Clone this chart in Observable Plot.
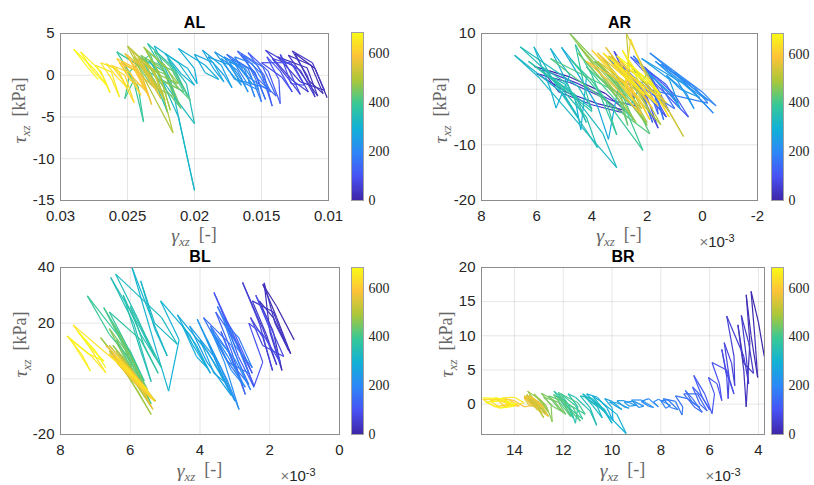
<!DOCTYPE html>
<html><head><meta charset="utf-8">
<script src="https://cdn.jsdelivr.net/npm/d3@7"></script>
<script src="https://cdn.jsdelivr.net/npm/@observablehq/plot@0.6"></script>
<style>
body{margin:0;background:#fff;}
#root{position:relative;width:814px;height:485px;overflow:hidden;background:#fff;}
#root svg{position:absolute;overflow:visible;}
</style></head><body><div id="root"></div>
<script>
// ---------- data: [gamma_xz, tau_xz (kPa), time] ----------
const AL = [
[0.0101,-2.7,0],[0.0110,0.8,3],[0.0125,2.6,6],[0.0115,-0.6,9],
[0.0104,-2.2,12],[0.0113,1.2,15],[0.0130,2.4,18],[0.0118,-0.3,21],
[0.0108,-2.5,24],[0.0116,0.9,27],[0.0138,2.2,30],[0.0121,-0.8,33],
[0.0103,-1.8,36],[0.0112,1.5,39],[0.0127,2.9,42],[0.0116,0.0,45],
[0.0110,-2.6,48],[0.0121,0.6,51],[0.0147,3.0,54],[0.0127,-0.6,57],
[0.0115,-2.0,60],[0.0126,1.2,63],[0.0142,2.0,66],[0.0130,-0.4,69],
[0.0121,-2.3,72],[0.0130,0.8,75],[0.0136,2.5,78],[0.0128,-1.0,81],
[0.0118,-1.2,84],[0.0128,1.5,87],[0.0150,1.5,90],[0.0135,-0.2,93],
[0.0127,-2.0,96],[0.0136,0.5,99],[0.0146,2.2,102],[0.0137,-0.5,105],
[0.0136,-3.4,110],[0.0145,0.5,113],[0.0160,2.7,116],[0.0148,0.0,119],
[0.0142,-3.7,122],[0.0150,0.2,125],[0.0165,2.5,128],[0.0153,-0.4,131],
[0.0139,-2.5,134],[0.0149,1.0,137],[0.0168,2.9,140],[0.0155,0.3,143],
[0.0147,-2.9,146],[0.0155,0.4,149],[0.0176,2.5,152],[0.0160,-0.2,155],
[0.0143,-2.0,158],[0.0153,1.2,161],[0.0163,2.3,164],[0.0154,-0.6,167],
[0.0150,-3.2,170],[0.0160,0.8,173],[0.0172,1.9,176],[0.0161,-0.9,179],
[0.0146,-1.5,182],[0.0157,1.4,185],[0.0170,2.2,188],[0.0160,-0.4,191],
[0.0155,-2.6,194],[0.0163,0.9,197],[0.0178,2.2,200],[0.0166,-0.7,203],
[0.0152,-1.8,206],[0.0162,0.8,209],[0.0174,1.6,212],[0.0164,-0.8,215],
[0.0160,-2.0,218],[0.0168,0.6,221],[0.0180,2.0,224],[0.0170,-0.5,227],
[0.0157,-1.0,230],[0.0167,1.0,233],[0.0185,2.8,236],[0.0174,0.5,239],
[0.0165,-1.2,242],[0.0173,1.2,245],[0.0190,2.2,248],[0.0178,0.0,251],
[0.0172,-1.5,254],[0.0180,1.2,257],[0.0194,3.0,260],[0.0185,0.6,263],
[0.0178,-0.8,266],[0.0186,1.5,269],[0.0200,2.5,272],[0.0192,0.3,275],
[0.0182,-0.5,278],[0.0192,1.2,281],[0.0212,3.2,284],[0.0200,0.8,287],
[0.0198,-1.0,290],[0.0205,0.8,293],[0.0222,2.6,296],[0.0210,0.2,299],
[0.0200,-1.2,302],[0.0212,1.5,305],[0.0230,3.5,308],[0.0218,-0.5,311],
[0.0200,-13.8,316],[0.0212,-5.0,320],[0.0226,0.0,324],[0.0234,1.8,327],
[0.0220,-1.5,330],[0.0200,-5.8,334],[0.0206,-1.0,338],[0.0220,2.0,342],
[0.0212,-0.5,346],
[0.0205,-2.5,350],[0.0215,0.8,353],[0.0235,3.8,356],[0.0222,0.2,359],
[0.0212,-3.5,362],[0.0222,0.4,365],[0.0241,2.2,368],[0.0230,-0.6,371],
[0.0220,-4.5,374],[0.0228,-0.2,377],[0.0258,2.8,380],[0.0246,-0.3,383],
[0.0238,-5.6,386],[0.0242,-1.4,389],[0.0252,1.0,392],[0.0246,-0.8,395],
[0.0252,-2.8,398],[0.0248,0.5,401],[0.0233,2.5,404],[0.0226,-0.4,407],
[0.0208,-2.0,410],[0.0218,1.0,413],[0.0230,2.9,416],[0.0220,-0.2,419],
[0.0203,-3.0,422],[0.0215,0.5,425],[0.0237,2.0,428],[0.0225,-1.0,431],
[0.0210,-4.0,434],[0.0220,0.0,437],[0.0244,1.6,440],[0.0232,-1.2,443],
[0.0215,-2.6,446],[0.0224,0.8,449],[0.0240,2.4,452],[0.0228,-0.4,455],
[0.0212,-1.6,458],[0.0222,1.2,461],[0.0236,3.0,464],[0.0226,0.0,467],
[0.0212,-1.0,470],[0.0222,1.0,473],[0.0238,3.4,476],[0.0226,0.2,479],
[0.0218,-4.2,482],[0.0226,0.0,485],[0.0250,3.5,488],[0.0238,-0.2,491],
[0.0216,-6.9,494],[0.0224,-2.0,497],[0.0240,1.5,500],[0.0230,-0.8,503],
[0.0222,-3.0,506],[0.0230,0.5,509],[0.0245,2.2,512],[0.0235,-0.2,515],
[0.0228,-1.8,518],[0.0235,1.0,521],[0.0248,3.2,524],[0.0238,0.6,527],
[0.0224,-2.2,530],[0.0232,0.8,533],[0.0242,2.0,536],[0.0234,-0.4,539],
[0.0225,-2.8,542],[0.0236,0.6,545],[0.0252,2.6,548],[0.0240,0.0,551],
[0.0230,-1.5,554],[0.0238,1.2,557],[0.0246,1.8,560],[0.0238,-0.6,563],
[0.0232,-3.5,566],[0.0240,0.2,569],[0.0255,1.6,572],[0.0245,-0.4,575],
[0.0236,-2.0,578],[0.0244,0.8,581],[0.0250,2.4,584],[0.0242,0.0,587],
[0.0234,-2.6,590],[0.0242,0.4,593],[0.0256,1.5,596],[0.0248,-0.6,599],
[0.0238,-1.4,602],[0.0246,1.0,605],[0.0258,2.0,608],[0.0250,0.2,611],
[0.0240,-2.4,614],[0.0248,0.3,617],[0.0262,1.2,620],[0.0254,-0.5,623],
[0.0245,-3.3,626],[0.0252,0.0,629],[0.0266,1.4,632],[0.0258,-0.2,635],
[0.0250,-1.5,638],[0.0258,0.8,641],[0.0270,1.5,644],[0.0262,-0.4,647],
[0.0256,-2.6,650],[0.0262,0.4,653],[0.0274,1.2,656],[0.0268,-0.2,659],
[0.0263,-2.1,662],[0.0270,0.5,665],[0.0285,2.8,668],[0.0277,0.8,671],
[0.0265,-1.3,674],[0.0274,0.6,677],[0.0290,3.1,680],[0.0280,1.0,683],[0.0272,-0.5,685]
];
const AR = [
[6.1,4.1,0],[4.8,2.2,4],[3.5,-0.8,8],[2.8,-3.8,12],[3.8,-2.6,16],[4.9,-0.6,20],[6.0,2.8,24],[4.8,1.2,28],[3.6,-1.5,32],[2.9,-4.2,36],[4.0,-2.8,40],[5.2,-0.5,44],[5.8,3.5,48],[4.5,1.0,52],[3.3,-2.0,56],
[2.4,-3.0,60],[2.6,0.5,63],[3.2,6.8,66],[2.5,2.0,69],
[1.6,-7.0,72],[2.0,-1.5,75],[2.9,4.2,78],[2.2,0.0,81],
[1.3,-5.0,84],[1.8,-0.6,87],[2.7,4.8,90],[2.0,0.8,93],
[1.2,-4.0,96],[1.6,0.0,99],[2.3,5.0,102],[1.7,1.0,105],
[0.5,-5.0,108],[1.0,-1.0,111],[2.1,4.0,114],[1.4,0.2,117],
[0.9,-2.5,120],[1.3,0.8,123],[2.6,5.8,126],[1.8,1.5,129],
[1.6,-4.5,132],[1.9,-0.5,135],[3.0,4.5,138],[2.3,0.5,141],
[1.8,-6.0,144],[2.1,-1.5,147],[3.4,5.5,150],[2.6,1.5,153],
[1.0,-3.5,156],[1.5,0.5,159],[2.5,6.0,162],[1.8,1.8,165],
[1.4,-5.5,168],[1.7,-1.0,171],[2.8,3.5,174],[2.0,0.0,177],
[-0.2,-2.5,180],[0.3,0.5,183],[1.5,4.5,186],[0.6,1.2,189],
[-0.5,-3.0,192],[0.0,-0.5,195],[1.9,6.5,198],[0.8,2.0,201],
[-0.4,-4.3,204],[0.2,-1.2,207],[1.0,3.0,210],[0.4,0.5,213],
[-0.2,-2.0,216],[0.4,0.0,219],[1.7,5.0,222],[0.9,1.5,225],
[0.3,-3.5,228],[0.6,-0.5,231],[1.3,2.5,234],[0.8,0.0,237],
[0.1,-1.5,240],[0.7,1.0,243],[2.2,5.5,246],[1.2,1.8,249],
[0.8,-3.5,252],[1.2,-0.5,255],[2.0,3.0,258],
[2.6,-3.0,262],[3.0,0.5,265],[3.5,5.0,268],[3.0,1.5,271],
[3.4,-9.0,274],[3.8,-3.0,277],[5.1,7.5,280],[4.2,2.0,283],
[4.4,-7.3,286],[4.6,-2.0,289],[5.5,7.3,292],[4.8,2.5,295],
[5.3,-3.4,298],[5.5,0.0,301],[6.1,7.6,304],[5.5,2.5,307],
[4.5,-5.0,310],[5.0,-1.0,313],[6.8,6.1,316],[5.9,2.0,319],
[3.1,-14.1,322],[3.6,-8.0,325],[5.0,1.0,328],[5.6,2.5,331],
[4.0,-3.5,334],[4.5,0.5,337],[6.6,7.6,340],[5.6,3.0,343],
[3.8,-10.5,346],[4.2,-5.0,349],[5.8,4.0,352],[4.9,1.0,355],
[4.2,-6.0,358],[4.6,-1.0,361],[6.3,5.0,364],[5.4,1.5,367],
[4.0,-4.0,370],[4.3,1.0,373],[4.6,8.0,376],[4.0,2.5,379],
[3.1,-8.2,382],[3.5,-2.0,385],[4.8,5.5,388],[4.0,1.5,391],
[2.15,-11.0,394],[2.7,-4.5,397],[4.2,4.0,400],[3.4,0.5,403],
[2.5,-5.5,406],[2.9,-1.0,409],[5.5,5.5,412],[4.6,2.0,415],
[1.9,-8.0,418],[2.4,-3.0,421],[3.6,3.5,424],[3.0,0.0,427],
[2.7,-6.5,430],[3.0,-2.0,433],[4.5,6.5,436],[3.7,2.0,439],
[2.3,-4.0,442],[2.7,0.0,445],[3.9,5.0,448],[3.2,1.5,451],
[2.0,-6.5,454],[2.5,-2.0,457],
[4.8,10.0,460],[3.9,4.0,463],[2.4,-6.0,466],[2.9,-2.0,469],
[4.5,8.0,472],[3.6,3.0,475],[2.0,-6.0,478],[2.5,-1.5,481],
[3.6,5.5,484],[3.0,2.0,487],[1.5,-6.4,490],[2.0,-2.0,493],
[3.3,6.0,496],[2.7,2.0,499],[1.9,-4.0,502],[2.3,-0.5,505],
[3.8,5.0,508],[3.0,1.0,511],[2.2,-3.5,514],[2.6,0.5,517],
[2.75,10.0,520],[2.2,4.5,523],[0.68,-8.5,526],[1.2,-4.0,529],
[2.6,4.5,532],[2.2,1.5,535],[1.3,-2.5,538],[1.8,0.5,541],
[3.4,6.0,544],[2.8,2.5,547],[2.0,-2.0,550],[2.4,0.5,553],
[3.5,7.5,556],[2.9,3.5,559],[1.8,-3.5,562],[2.2,-0.5,565],
[3.8,6.5,568],[3.2,3.0,571],[2.4,-1.5,574],[2.8,1.0,577],
[4.2,5.0,580],[3.4,1.5,583],[2.2,-4.5,586],[2.6,-1.0,589],
[3.0,5.5,592],[2.6,2.5,595],[1.6,-3.0,598],[2.0,0.0,601],
[3.2,4.5,604],[2.7,1.5,607],[1.9,-5.5,610],[2.3,-1.5,613],
[4.0,7.0,616],[3.3,3.0,619],[2.5,-2.0,622],[2.8,0.5,625],
[2.6,9.0,628],[2.2,4.0,631],[1.2,-5.0,634],[1.7,-1.0,637],
[3.6,6.5,640],[3.0,3.0,643],[2.1,-1.0,646],[2.5,1.5,649],
[3.3,5.5,652],[2.8,2.5,655],[1.7,-2.5,658],[2.2,0.5,661],
[2.9,7.0,664],[2.5,4.0,667],[1.5,-1.0,670],[1.9,1.5,673],
[3.1,6.0,676],[2.6,3.5,679],[2.0,1.0,682],[2.4,3.0,685]
];
const BL = [
[1.3,14.0,0],[1.8,26.0,3],[2.2,34.0,6],[1.8,22.0,9],
[1.4,9.0,12],[1.9,22.0,15],[2.3,28.0,18],[1.9,17.0,21],
[1.65,3.0,24],[2.0,17.0,27],[2.16,34.5,30],[1.85,20.0,33],
[1.45,10.0,36],[1.9,24.0,39],[2.5,28.0,42],[2.1,16.0,45],
[1.8,5.0,48],[2.2,18.0,51],[2.78,34.6,54],[2.3,20.0,57],
[1.92,3.0,60],[2.2,15.0,63],[2.55,22.0,66],[2.2,12.0,69],
[1.6,8.0,72],[2.1,22.0,75],[2.4,30.0,78],[2.0,18.0,81],
[1.7,6.0,84],[2.2,16.0,87],[2.6,20.0,90],
[2.2,6.0,93],[2.45,-2.6,96],[2.9,12.0,99],[3.6,31.0,102],[3.1,16.0,105],
[2.5,2.0,108],[3.0,16.0,111],[3.3,22.0,114],[2.9,8.0,117],
[2.45,-3.0,120],[2.9,12.0,123],[3.55,24.0,126],[3.1,10.0,129],
[2.7,-5.6,132],[3.1,8.0,135],[3.4,17.0,138],[3.0,4.0,141],
[2.6,-2.0,144],[3.1,12.0,147],[3.9,22.0,150],[3.3,8.0,153],
[2.8,-1.0,156],[3.2,10.0,159],[3.7,19.0,162],[3.2,6.0,165],
[2.6,2.0,168],[3.0,14.0,171],[3.5,26.0,174],[3.0,12.0,177],
[2.5,4.0,180],[2.9,15.0,183],[3.3,20.0,186],[2.9,6.0,189],
[2.55,-4.0,192],[3.0,7.0,195],[3.6,16.0,198],[3.1,3.0,201],
[2.7,-3.0,204],[3.2,8.0,207],
[3.7,18.0,210],[3.3,6.0,213],[2.88,-11.0,216],[3.2,-1.0,219],[3.8,14.0,222],[3.4,2.0,225],
[3.0,-8.0,228],[3.4,4.0,231],[4.08,21.4,234],[3.6,8.0,237],
[3.2,-3.0,240],[3.6,8.0,243],[4.3,19.0,246],[3.8,6.0,249],
[3.1,-6.0,252],[3.5,4.0,255],[4.0,14.0,258],[3.6,2.0,261],
[3.3,-1.0,264],[3.8,10.0,267],[4.65,23.0,270],[4.2,12.0,273],
[3.7,2.0,276],[4.1,12.0,279],[4.5,19.0,282],[4.1,8.0,285],
[3.8,4.0,288],
[4.3,16.0,291],[5.13,28.0,294],[4.6,14.0,297],[4.9,-4.4,300],[5.2,8.0,303],
[5.95,40.0,306],[5.4,22.0,309],[4.94,8.2,312],[5.3,18.0,315],
[5.7,35.2,318],[5.3,20.0,321],[4.65,12.4,324],[5.1,22.0,327],
[6.42,37.6,330],[5.8,22.0,333],[5.3,8.0,336],[5.7,18.0,339],
[6.56,36.4,342],[5.9,20.0,345],[5.4,-1.0,348],[5.7,10.0,351],
[6.2,30.0,354],[5.7,16.0,357],[5.1,4.0,360],[5.5,14.0,363],
[6.0,26.0,366],[5.6,12.0,369],
[5.2,2.0,372],[5.7,14.0,375],[6.6,24.0,378],[6.1,12.0,381],
[5.6,-0.8,384],[6.0,10.0,387],[7.23,29.8,390],[6.6,16.0,393],
[5.8,4.0,396],[6.2,14.0,399],[6.76,25.6,402],[6.2,12.0,405],
[5.4,-9.0,408],[5.8,0.0,411],[6.4,14.0,414],[5.9,4.0,417],
[5.5,-4.0,420],[5.9,6.0,423],[6.5,20.0,426],[6.0,8.0,429],
[5.5,-6.0,432],[5.9,2.0,435],[6.3,16.0,438],[5.9,6.0,441],
[5.6,-2.0,444],[6.0,8.0,447],[6.6,18.0,450],[6.1,6.0,453],
[5.5,-7.0,456],
[5.9,3.0,460],[6.5,12.0,463],[6.0,4.0,466],[5.5,-6.0,469],[5.9,0.0,472],
[6.85,14.8,475],[6.3,6.0,478],[5.4,-12.8,481],[5.8,-4.0,484],
[6.5,9.0,487],[6.0,2.0,490],[5.27,-8.0,493],[5.7,-2.0,496],
[6.6,10.0,499],[6.1,3.0,502],[5.4,-10.0,505],[5.8,-2.0,508],
[6.5,8.0,511],[6.0,0.0,514],[5.3,-8.0,517],[5.7,-1.0,520],
[6.4,10.0,523],[5.9,2.0,526],[5.5,-5.0,529],[5.9,2.0,532],
[6.6,12.0,535],[6.0,3.0,538],[5.4,-6.0,541],[5.9,1.0,544],
[6.3,8.0,547],[5.8,0.0,550],[5.35,-11.0,553],[5.7,-3.0,556],
[6.4,6.0,559],[5.9,-1.0,562],[5.3,-8.0,565],[5.8,0.0,568],
[6.7,12.0,571],[6.1,4.0,574],[5.5,-4.0,577],[5.9,2.0,580],
[6.5,9.0,583],[6.0,1.0,586],[5.4,-7.0,589],[5.8,-1.0,592],
[6.3,6.0,595],[5.8,-2.0,598],[5.3,-8.0,601],[5.9,1.0,604],
[6.6,9.0,607],[6.1,2.0,610],[5.6,-4.0,613],[6.0,3.0,616],
[6.4,8.0,620],[5.8,-1.0,623],[5.3,-8.0,626],[5.8,0.0,629],
[6.4,8.0,632],[6.0,2.0,635],[5.5,-4.0,638],[6.2,4.0,641],
[7.64,19.4,644],[7.2,12.0,647],[6.7,2.2,650],[7.1,8.0,653],
[7.81,15.4,656],[7.4,9.0,659],[7.14,2.8,662],[7.4,8.0,665],
[7.7,14.0,668],[7.2,9.0,671],[6.76,6.4,674],[7.2,12.0,677],
[7.5,17.0,680],[7.0,10.0,683],[6.7,4.0,685]
];
const BR = [
[3.76,7.0,0],[4.0,12.0,3],[4.3,16.5,6],[4.15,10.0,9],
[4.03,3.9,12],[4.3,10.0,15],[4.5,16.0,18],[4.35,9.0,21],
[4.5,-0.4,24],[4.6,5.0,27],[4.84,11.6,30],[4.6,6.0,33],
[4.2,4.5,36],[4.4,9.0,39],[4.7,13.0,42],[4.5,7.0,45],
[4.4,3.0,48],[4.6,7.0,51],[5.3,12.9,54],[5.0,7.0,57],
[4.97,2.7,60],[5.1,6.0,63],[5.4,9.0,66],[5.2,4.0,69],
[5.24,0.8,72],[5.3,4.0,75],[5.5,8.0,78],[5.3,4.5,81],
[5.0,1.5,84],[5.3,5.0,87],[5.9,6.1,90],[5.6,3.0,93],
[5.5,0.5,96],[5.7,3.0,99],[6.05,3.9,102],[5.8,1.5,105],
[5.9,-1.4,108],[6.2,1.5,111],[6.65,4.2,114],[6.3,1.0,117],
[6.0,-0.8,120],[6.3,1.0,123],[6.7,2.5,126],[6.4,0.0,129],
[6.1,-1.0,132],[6.5,1.5,135],[7.06,1.5,138],[6.6,-0.5,141],
[6.3,-1.2,144],[6.7,0.8,147],[7.0,2.0,150],[6.7,0.2,153],
[6.4,-0.5,156],[6.9,0.8,159],[7.4,1.2,162],[7.1,-0.4,165],
[7.13,-1.6,168],[7.4,0.4,171],[7.9,0.8,174],[7.6,-0.5,177],
[7.3,-0.8,180],[7.7,0.6,183],[8.0,0.5,186],[7.8,-0.6,189],
[7.6,-0.2,192],[8.1,0.7,195],[8.3,0.3,198],
[8.1,-0.4,201],[8.5,0.8,204],[8.8,0.4,207],[8.5,-0.3,210],
[8.3,-0.5,213],[8.8,0.6,216],[9.2,0.6,219],[8.9,-0.5,222],
[8.7,-0.3,225],[9.1,0.4,228],[9.5,0.3,231],[9.3,-0.3,234],
[9.0,-0.2,237],[9.5,0.5,240],[9.8,0.5,243],[9.5,-0.4,246],
[9.3,-0.6,249],[9.8,0.2,252],[10.1,0.3,255],[9.8,-0.4,258],
[9.6,-0.8,261],[10.0,0.4,264],[10.3,0.8,267],[10.0,-0.5,270],
[9.96,-2.4,273],[10.2,-0.6,276],
[10.6,1.0,280],[11.04,1.5,283],[10.6,-0.2,286],[10.2,-1.5,289],
[9.42,-4.3,292],[9.8,-1.5,295],[10.5,0.5,298],[10.8,1.2,301],
[10.4,-0.6,304],[10.0,-2.8,307],[10.3,-0.8,310],[10.9,0.8,313],
[11.2,1.5,316],[10.8,-0.2,319],[10.4,-2.0,322],[10.6,-0.4,325],
[11.1,1.0,328],[10.7,0.0,331],[10.3,-1.0,334],[10.8,0.8,337],
[11.3,1.2,340],[10.9,-0.5,343],[10.63,-3.1,346],[10.9,-1.0,349],
[11.5,1.0,352],[11.8,1.5,355],[11.4,-0.4,358],[11.5,-2.8,361],
[11.7,-0.6,364],[12.0,0.8,367],[12.38,1.9,370],[12.0,0.0,373],
[11.6,-2.0,376],[11.8,-0.4,379],[12.2,1.2,382],[11.9,-0.2,385],
[11.2,-2.2,388],[11.5,-0.2,391],[12.1,1.5,394],[11.8,0.0,397],
[11.1,-1.5,400],[11.4,0.2,403],[12.2,1.7,406],[11.9,-0.2,409],
[11.3,-2.5,412],[11.6,-0.5,415],[12.4,1.4,418],[12.0,-0.4,421],
[11.7,-1.8,424],[12.0,0.4,427],[12.6,1.2,430],[12.2,-0.6,433],
[11.9,-1.5,436],[12.2,0.3,439],[12.8,1.0,442],[12.4,-0.4,445],
[12.0,-1.2,448],[12.4,0.6,451],[12.9,1.6,454],[12.5,-0.2,457],
[12.45,-2.6,460],[12.7,-0.2,463],[13.2,1.5,466],[12.9,0.2,469],
[12.6,-1.2,472],[12.9,0.5,475],[13.46,1.9,478],[13.1,0.2,481],
[12.7,-1.5,484],[13.0,0.3,487],[13.5,1.2,490],[13.2,-0.3,493],
[12.9,-1.2,496],[13.2,0.5,499],[13.4,1.0,502],[13.1,-0.3,505],
[12.8,-2.0,508],[13.1,0.0,511],[13.5,1.4,514],[13.2,0.0,517],
[12.9,-0.8,520],[13.2,0.6,523],[13.6,1.2,526],[13.3,0.0,529],
[13.0,-1.0,532],[13.3,0.4,535],[13.6,0.9,538],[13.4,-0.2,541],
[13.0,-0.5,544],[13.3,0.5,547],[13.6,1.0,550],[13.3,0.0,553],
[12.6,-1.8,556],[12.9,0.0,559],[13.4,1.3,562],[13.1,0.2,565],
[12.8,-0.6,568],[13.2,0.8,571],[13.6,1.1,574],[13.3,-0.2,577],
[13.6,-0.4,580],[14.0,0.5,584],[14.4,0.8,588],[14.1,-0.2,592],
[13.8,-0.3,596],[14.2,0.6,600],[14.8,0.9,604],[14.4,-0.3,608],
[14.1,-0.1,612],[14.6,0.7,616],[15.3,0.7,620],[14.8,-0.4,624],
[14.2,0.0,628],[14.7,0.6,632],[15.0,0.5,636],[14.6,-0.5,640],
[13.6,0.2,644],[14.0,1.0,648],[14.5,0.9,652],[14.2,-0.2,656],
[13.9,0.0,660],[14.4,0.5,664],[15.2,0.3,668],[14.6,-0.6,672],
[14.0,-0.3,676],[14.5,0.8,680],[15.3,0.9,685]
];

// ---------- ticks / labels ----------
const AL_XTICKS = [0.03,0.025,0.02,0.015,0.01];
const AL_YTICKS = [5,0,-5,-10,-15];
const AR_XTICKS = [8,6,4,2,0,-2];
const AR_YTICKS = [10,0,-10,-20];
const BL_XTICKS = [8,6,4,2,0];
const BL_YTICKS = [40,20,0,-20];
const BR_XTICKS = [14,12,10,8,6,4];
const BR_YTICKS = [20,15,10,5,0];
const CBAR_TICKS = [0,200,400,600];
const TIME_MAX = 685;
const PARULA = ["#3e26a8","#4852f4","#2d87f7","#11b1d6","#37c897","#abc739","#fec338","#f9fb14"];

const parula = d3.piecewise(d3.interpolateRgb, PARULA);
const root = document.getElementById("root");
const fmt = d => String(d);

function segments(pts){
  const out = [];
  for (let i = 1; i < pts.length; i++) {
    out.push({x1: pts[i-1][0], y1: pts[i-1][1], x2: pts[i][0], y2: pts[i][1], t: (pts[i-1][2] + pts[i][2]) / 2});
  }
  return out;
}

function texLabel(sel, sym, unit){
  sel.append("tspan").attr("font-style","italic").attr("font-size","1.1em").text(sym);
  sel.append("tspan").attr("font-style","italic").attr("font-size","0.72em").attr("dy","0.3em").text("xz");
  sel.append("tspan").attr("dy","-0.3em").text("\u2002[" + unit + "]");
}

function panel(p){
  const ML = 60, MT = 40, MR = 10, MB = 50;
  const svg = Plot.plot({
    width: ML + p.w + MR, height: MT + p.h + MB,
    marginLeft: ML, marginTop: MT, marginRight: MR, marginBottom: MB,
    style: {fontFamily: "'Liberation Sans', Arial, sans-serif", fontSize: "15px", color: "#262626", background: "transparent", overflow: "visible"},
    x: {domain: p.xDomain, ticks: p.xTicks, tickFormat: fmt, label: null, tickSize: 0, tickPadding: 10},
    y: {domain: p.yDomain, ticks: p.yTicks, tickFormat: fmt, label: null, tickSize: 0, tickPadding: 6},
    color: {type: "linear", domain: [0, TIME_MAX], interpolate: parula},
    marks: [
      Plot.gridX(p.xTicks, {stroke: "#000", strokeOpacity: 0.1}),
      Plot.gridY(p.yTicks, {stroke: "#000", strokeOpacity: 0.1}),
      Plot.link(segments(p.pts), {x1: "x1", y1: "y1", x2: "x2", y2: "y2", stroke: "t", strokeWidth: 1.2, clip: true}),
      Plot.frame({stroke: "#8c8c8c"}),
      Plot.text([p.title], {text: d => d, frameAnchor: "top", dy: -6, lineAnchor: "bottom", fontWeight: "bold", fontSize: 16, fill: "#000"})
    ]
  });
  svg.style.left = (p.left - ML) + "px";
  svg.style.top = (p.top - MT) + "px";
  root.appendChild(svg);
  const s = d3.select(svg);
  const ox = p.left - ML, oy = p.top - MT;
  const yl = s.append("text")
    .attr("transform", `translate(${p.ylx - ox},${p.top + p.h / 2 - 6 - oy}) rotate(-90)`)
    .attr("text-anchor", "middle").attr("fill", "#666")
    .attr("font-family", "'Liberation Serif', 'DejaVu Serif', serif").attr("font-size", 18);
  texLabel(yl, "\u03c4", "kPa");
  const xl = s.append("text")
    .attr("x", p.left + p.w / 2 - ox).attr("y", p.xly - oy)
    .attr("text-anchor", "middle").attr("fill", "#666")
    .attr("font-family", "'Liberation Serif', 'DejaVu Serif', serif").attr("font-size", 18);
  texLabel(xl, "\u03b3", "-");
  if (p.exp) {
    const e = s.append("text").attr("x", p.exp[0] - ox).attr("y", p.exp[1] - oy)
      .attr("font-family", "'Liberation Sans', Arial, sans-serif").attr("font-size", 15).attr("fill", "#262626");
    e.append("tspan").attr("fill", "#777").text("\u00d7");
    e.append("tspan").text("10");
    e.append("tspan").attr("font-size", 11).attr("dy", "-0.5em").text("-3");
  }
}

function colorbar(left, top, w, h){
  const MR = 40;
  const step = TIME_MAX / 240;
  const steps = d3.range(0, TIME_MAX, step);
  const svg = Plot.plot({
    width: w + MR, height: h, marginLeft: 0, marginRight: MR, marginTop: 0, marginBottom: 0,
    style: {fontFamily: "'Liberation Serif', 'DejaVu Serif', serif", fontSize: "14px", color: "#262626", background: "transparent", overflow: "visible"},
    x: {domain: [0, 1], axis: null},
    y: {domain: [0, TIME_MAX], ticks: CBAR_TICKS, tickFormat: fmt, axis: "right", label: null, tickSize: 0, tickPadding: 5},
    color: {type: "linear", domain: [0, TIME_MAX], interpolate: parula},
    marks: [
      Plot.rect(steps, {x1: 0, x2: 1, y1: d => d, y2: d => Math.min(TIME_MAX, d + step * 1.5), fill: d => d + step / 2, shapeRendering: "crispEdges"}),
      Plot.frame({stroke: "#a0a0a0"})
    ]
  });
  svg.style.left = left + "px";
  svg.style.top = top + "px";
  root.appendChild(svg);
}

panel({pts: AL, title: "AL", xDomain: [0.03, 0.01], yDomain: [-15, 5], xTicks: AL_XTICKS, yTicks: AL_YTICKS,
  left: 60, top: 33, w: 268, h: 167, ylx: 26, xly: 242});
panel({pts: AR, title: "AR", xDomain: [8, -2], yDomain: [-20, 10], xTicks: AR_XTICKS, yTicks: AR_YTICKS,
  left: 481, top: 33, w: 276, h: 167, ylx: 447, xly: 242, exp: [717, 247]});
panel({pts: BL, title: "BL", xDomain: [8, 0], yDomain: [-20, 40], xTicks: BL_XTICKS, yTicks: BL_YTICKS,
  left: 60, top: 267, w: 279, h: 167, ylx: 27, xly: 477, exp: [298, 481]});
panel({pts: BR, title: "BR", xDomain: [15.35, 3.75], yDomain: [-4.45, 20], xTicks: BR_XTICKS, yTicks: BR_YTICKS,
  left: 481, top: 267, w: 283, h: 167, ylx: 453, xly: 477, exp: [723, 481]});

colorbar(351, 32, 12, 168);
colorbar(771, 33, 12, 167);
colorbar(351, 267, 12, 167);
colorbar(771, 267, 12, 167);
</script></body></html>
